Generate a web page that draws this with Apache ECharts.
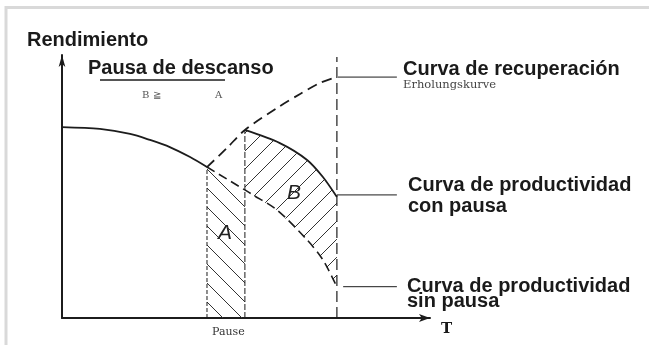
<!DOCTYPE html>
<html>
<head>
<meta charset="utf-8">
<script src="https://cdn.jsdelivr.net/npm/echarts@6/dist/echarts.min.js"></script>
<style>
html, body { margin: 0; padding: 0; background: #fff; }
#chart { width: 649px; height: 345px; }
</style>
</head>
<body>
<div id="chart"></div>
<script>
// escala: tiempo 0-100, rendimiento 0-100
const sinPausaT = [0, 10.3, 18.5, 23.9, 29.3, 34.8, 39.4]
const sinPausaR = [72.6, 71.9, 70.0, 67.7, 65.0, 61.2, 57.4]
// continuacion sin pausa (discontinua)
const sinPausaDashT = [39.4, 49.7, 51.9, 58.4, 66.6, 70.9, 74.7]
const sinPausaDashR = [57.4, 48.7, 46.8, 41.1, 29.7, 22.1, 11.8]
const recupT = [39.4, 44.8, 49.7, 58.4, 64.7, 70.1, 74.5]
const recupR = [57.4, 64.6, 71.5, 79.8, 85.2, 89.4, 91.6]
const conPausaT = [49.7, 59.2, 66.6, 70.9, 74.7]
const conPausaR = [71.5, 66.5, 60.1, 53.6, 46.0]
const pausaInicio = 39.4
const pausaFin = 49.7
const finT = 74.7
const finTop = 99.2

const ink = '#1c1c1c'

function zip(t, r) {
  return t.map((v, i) => [v, r[i]])
}

function hatch(size, dir) {
  const c = document.createElement('canvas')
  c.width = size
  c.height = size
  const ctx = c.getContext('2d')
  ctx.strokeStyle = '#333'
  ctx.lineWidth = 1
  ctx.beginPath()
  if (dir === '/') {
    ctx.moveTo(0, size); ctx.lineTo(size, 0)
    ctx.moveTo(-2, 2); ctx.lineTo(2, -2)
    ctx.moveTo(size - 2, size + 2); ctx.lineTo(size + 2, size - 2)
  } else {
    ctx.moveTo(0, 0); ctx.lineTo(size, size)
    ctx.moveTo(-2, size - 2); ctx.lineTo(2, size + 2)
    ctx.moveTo(size - 2, -2); ctx.lineTo(size + 2, 2)
  }
  ctx.stroke()
  return c
}

function linea(t, r, type, width, smooth) {
  return {
    type: 'line',
    data: zip(t, r),
    symbol: 'none',
    smooth: smooth || false,
    silent: true,
    z: 3,
    lineStyle: { color: ink, width: width, type: type }
  }
}

function rayado(pts, pattern) {
  return {
    type: 'custom',
    data: [pts[0]],
    silent: true,
    z: 1,
    renderItem: function (params, api) {
      return {
        type: 'polygon',
        shape: { points: pts.map(p => api.coord(p)) },
        style: { fill: { image: pattern, repeat: 'repeat' }, stroke: null }
      }
    }
  }
}

// zona A: bajo la curva sin pausa durante la pausa
const zonaA = zip(sinPausaDashT, sinPausaDashR)
  .filter(p => p[0] <= pausaFin)
  .concat([[pausaFin, 0], [pausaInicio, 0]])
// zona B: entre curva con pausa y curva sin pausa
const zonaB = zip(conPausaT, conPausaR)
  .concat(zip(sinPausaDashT, sinPausaDashR).filter(p => p[0] >= pausaFin).reverse())

function texto(str, x, y, font, fill) {
  return {
    type: 'text', x: x, y: y, silent: true,
    style: { text: str, font: font, fill: fill || '#1a1a1a', verticalAlign: 'middle' }
  }
}

const sans = '"Liberation Sans", Arial, sans-serif'
const serif = '"DejaVu Serif", serif'

const chart = echarts.init(document.getElementById('chart'))
chart.setOption({
  animation: false,
  grid: { left: 62, top: 55, right: 219, bottom: 27 },
  xAxis: {
    type: 'value', min: 0, max: 100,
    axisLine: { show: true, symbol: ['none', 'arrow'], symbolSize: [6, 11], lineStyle: { color: ink, width: 2 } },
    axisTick: { show: false }, axisLabel: { show: false }, splitLine: { show: false }
  },
  yAxis: {
    type: 'value', min: 0, max: 100,
    axisLine: { show: true, symbol: ['none', 'arrow'], symbolSize: [5, 12], lineStyle: { color: ink, width: 2 } },
    axisTick: { show: false }, axisLabel: { show: false }, splitLine: { show: false }
  },
  series: [
    rayado(zonaA, hatch(19, '\\')),
    rayado(zonaB, hatch(18, '/')),
    linea(sinPausaT, sinPausaR, 'solid', 1.8, 0.3),
    linea(sinPausaDashT, sinPausaDashR, [9, 5], 1.6, 0.3),
    linea(recupT, recupR, [10, 6], 1.8, 0.3),
    linea(conPausaT, conPausaR, 'solid', 1.8, 0.3),
    linea([pausaInicio, pausaInicio], [0, sinPausaR[sinPausaR.length - 1]], [4, 2], 1),
    linea([pausaFin, pausaFin], [0, conPausaR[0]], [6, 2], 1),
    linea([finT, finT], [0, finTop], [11, 5], 1.2),
    linea([75.0, 91.0], [91.6, 91.6], 'solid', 1),
    linea([74.7, 91.0], [46.8, 46.8], 'solid', 1),
    linea([76.4, 91.0], [11.9, 11.9], 'solid', 1)
  ],
  graphic: [
    { type: 'line', silent: true, shape: { x1: 5, y1: 7.5, x2: 649, y2: 7.5 }, style: { stroke: '#d9d9d9', lineWidth: 3 } },
    { type: 'line', silent: true, shape: { x1: 6, y1: 6, x2: 6, y2: 345 }, style: { stroke: '#d9d9d9', lineWidth: 3 } },
    { type: 'line', silent: true, shape: { x1: 100, y1: 80, x2: 225, y2: 80 }, style: { stroke: ink, lineWidth: 1.4 } },
    texto('Rendimiento', 27, 40, 'bold 20px ' + sans),
    texto('Pausa de descanso', 88, 68, 'bold 20px ' + sans),
    texto('B ≧', 142, 95, '10px ' + serif, '#555'),
    texto('A', 215, 95, '10px ' + serif, '#555'),
    texto('Curva de recuperación', 403, 69, 'bold 20px ' + sans),
    texto('Erholungskurve', 403, 85, '11.5px ' + serif, '#444'),
    texto('Curva de productividad', 408, 185, 'bold 20px ' + sans),
    texto('con pausa', 408, 206, 'bold 20px ' + sans),
    texto('Curva de productividad', 407, 286, 'bold 20px ' + sans),
    texto('sin pausa', 407, 301, 'bold 20px ' + sans),
    texto('Pause', 212, 332, '11px ' + serif, '#333'),
    texto('T', 441, 329, 'bold 15px ' + serif),
    texto('A', 218, 233, 'italic 21px ' + sans, '#222'),
    texto('B', 287, 193, 'italic 21px ' + sans, '#222')
  ]
})
</script>
</body>
</html>
